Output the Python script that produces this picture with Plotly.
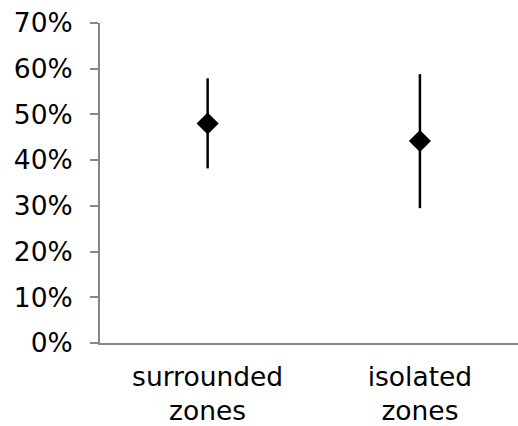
import plotly.graph_objects as go

categories = ["surrounded<br>zones", "isolated<br>zones"]
means = [0.480, 0.442]
upper = [0.579, 0.588]
lower = [0.382, 0.295]

err_plus = [u - m for u, m in zip(upper, means)]
err_minus = [m - l for m, l in zip(means, lower)]

fig = go.Figure(
    go.Scatter(
        x=[0, 1],
        y=means,
        mode="markers",
        marker=dict(symbol="diamond", size=17, color="black"),
        error_y=dict(
            type="data",
            symmetric=False,
            array=err_plus,
            arrayminus=err_minus,
            color="black",
            thickness=2.5,
            width=0,
        ),
        showlegend=False,
        hoverinfo="skip",
    )
)

font_family = "DejaVu Sans, Verdana, sans-serif"
fs = 26.5

fig.update_layout(
    width=518,
    height=426,
    margin=dict(l=100, r=0, t=23, b=83),
    paper_bgcolor="white",
    plot_bgcolor="white",
    font=dict(family=font_family, size=fs, color="black"),
)

fig.update_xaxes(
    range=[-0.507, 1.462],
    tickvals=[0, 1],
    ticktext=categories,
    showgrid=False,
    zeroline=False,
    showline=True,
    linecolor="#868686",
    linewidth=2,
    ticks="",
    ticklabelstandoff=9,
    ticklabeloverflow="allow",
    tickfont=dict(size=fs, family=font_family, color="black"),
)

fig.update_yaxes(
    range=[0, 0.7],
    tickvals=[0, 0.1, 0.2, 0.3, 0.4, 0.5, 0.6, 0.7],
    tickformat=".0%",
    showgrid=False,
    zeroline=False,
    showline=True,
    linecolor="#868686",
    linewidth=2,
    ticks="outside",
    ticklen=8,
    tickwidth=2,
    tickcolor="#868686",
    ticklabelstandoff=12,
    ticklabeloverflow="allow",
    tickfont=dict(size=fs, family=font_family, color="black"),
)

fig.write_html(
    "out.html",
    config={"displayModeBar": False},
    post_script="document.body.style.margin='0';document.body.style.overflow='hidden';",
)
